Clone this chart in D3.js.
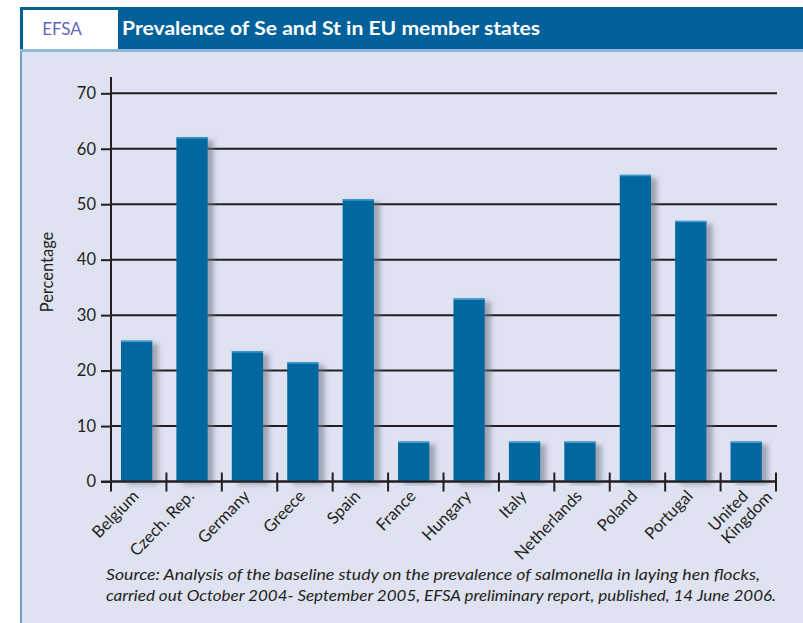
<!DOCTYPE html>
<html>
<head>
<meta charset="utf-8">
<script src="https://cdn.jsdelivr.net/npm/d3@7"></script>
<style>
  body { margin: 0; background: #fff; }
  text { font-family: Lato, "Open Sans", sans-serif; }
</style>
</head>
<body>
<svg width="803" height="623"></svg>
<script>
// data
var countries = ["Belgium", "Czech. Rep.", "Germany", "Greece", "Spain", "France",
                 "Hungary", "Italy", "Netherlands", "Poland", "Portugal", "United\nKingdom"];
var prevalence = [25.4, 62.1, 23.5, 21.5, 50.9, 7.2, 33.0, 7.2, 7.2, 55.3, 47.0, 7.2];
var yTicks = [0, 10, 20, 30, 40, 50, 60, 70];
var sourceLines = [
  "Source: Analysis of the baseline study on the prevalence of salmonella in laying hen flocks,",
  "carried out October 2004- September 2005, EFSA preliminary report, published, 14 June 2006."
];

var svg = d3.select("svg");
var ink = "#231f20";
var blue = "#00679f";

// shadow behind the bars
var defs = svg.append("defs");
var f = defs.append("filter").attr("id", "shadow")
    .attr("x", "-20%").attr("y", "-5%").attr("width", "160%").attr("height", "115%");
f.append("feDropShadow")
    .attr("dx", 6).attr("dy", 3).attr("stdDeviation", 2.5)
    .attr("flood-color", "#6b6f80").attr("flood-opacity", 0.55);

// panel + header band
svg.append("rect").attr("x", 20).attr("y", 50).attr("width", 783).attr("height", 573)
    .attr("fill", "#dfe2f0");
svg.append("rect").attr("x", 20).attr("y", 50).attr("width", 2).attr("height", 573)
    .attr("fill", "#6d9cc4");
svg.append("rect").attr("x", 20).attr("y", 7).attr("width", 783).attr("height", 43)
    .attr("fill", "#02619a");
svg.append("rect").attr("x", 20).attr("y", 49).attr("width", 783).attr("height", 3)
    .attr("fill", "#8fb8d8");
svg.append("rect").attr("x", 23).attr("y", 10).attr("width", 95).attr("height", 39)
    .attr("fill", "#ffffff");
svg.append("text").attr("x", 62).attr("y", 35).attr("text-anchor", "middle")
    .attr("font-size", 17).attr("fill", "#5f67bd").text("EFSA");
svg.append("text").attr("x", 122).attr("y", 35)
    .attr("font-size", 18).attr("font-weight", "bold").attr("fill", "#fff")
    .attr("textLength", 418).attr("lengthAdjust", "spacingAndGlyphs")
    .text("Prevalence of Se and St in EU member states");

// scales
var xScale = d3.scaleBand()
    .domain(countries)
    .range([111, 776])
    .padding(0);
var yScale = d3.scaleLinear()
    .domain([0, 70])
    .range([481.5, 93.3]);

var g = svg.append("g");

// horizontal grid lines with the little tick on the left
var yAxis = d3.axisLeft(yScale)
    .tickValues(yTicks)
    .tickSize(10)
    .tickPadding(5);
var ya = g.append("g").attr("transform", "translate(111,0)").call(yAxis);
ya.select(".domain").remove();
ya.selectAll(".tick line").attr("stroke", ink).attr("stroke-width", 2);
ya.selectAll(".tick text").attr("font-size", 16.5).attr("fill", ink)
    .style("font-family", "Lato, sans-serif");

g.selectAll(".grid")
    .data(yTicks)
    .enter().append("line")
    .attr("x1", 111).attr("x2", 777)
    .attr("y1", d => yScale(d)).attr("y2", d => yScale(d))
    .attr("stroke", ink).attr("stroke-width", 2);

// bars
var bw = xScale.bandwidth();
g.selectAll(".bar")
    .data(prevalence)
    .enter().append("rect")
    .attr("x", (d, i) => xScale(countries[i]) + bw * 0.18)
    .attr("y", d => yScale(d))
    .attr("width", bw * 0.565)
    .attr("height", d => yScale(0) - yScale(d))
    .attr("fill", blue)
    .attr("filter", "url(#shadow)");
// lighter top edge
g.selectAll(".bartop")
    .data(prevalence)
    .enter().append("rect")
    .attr("x", (d, i) => xScale(countries[i]) + bw * 0.18)
    .attr("y", d => yScale(d))
    .attr("width", bw * 0.565)
    .attr("height", 1.5)
    .attr("fill", "#3d9ad0");

// redraw zero line on top of the bars
g.append("line").attr("x1", 101).attr("x2", 777)
    .attr("y1", yScale(0)).attr("y2", yScale(0))
    .attr("stroke", ink).attr("stroke-width", 2);

// vertical axis line
g.append("line").attr("x1", 111).attr("x2", 111)
    .attr("y1", 77).attr("y2", 491)
    .attr("stroke", ink).attr("stroke-width", 2);

// ticks between categories on x axis
var bounds = countries.map(c => xScale(c)).concat([xScale.range()[1]]);
g.selectAll(".xtick")
    .data(bounds)
    .enter().append("line")
    .attr("x1", d => d).attr("x2", d => d)
    .attr("y1", yScale(0) - 9).attr("y2", yScale(0) + 10)
    .attr("stroke", ink).attr("stroke-width", 2);

// category labels, rotated
var labels = g.selectAll(".xlab")
    .data(countries)
    .enter().append("text")
    .attr("transform", d => "translate(" + (xScale(d) + bw / 2 + 1) + ",497) rotate(-46)")
    .attr("font-size", 16.5)
    .attr("fill", ink)
    .attr("text-anchor", "end");
labels.each(function(d) {
    var lines = d.split("\n");
    var t = d3.select(this);
    lines.forEach(function(l, i) {
        t.append("tspan").attr("x", 0).attr("dy", i ? 18 : 0).text(l);
    });
    if (lines.length > 1) {
        // align the lines on their start
        var first = t.select("tspan").node().getComputedTextLength();
        t.attr("text-anchor", "start");
        t.selectAll("tspan").attr("x", -first);
    }
});

// y axis title
svg.append("text")
    .attr("transform", "translate(53,272) rotate(-90)")
    .attr("text-anchor", "middle")
    .attr("font-size", 16.5)
    .attr("fill", ink)
    .text("Percentage");

// source note
svg.selectAll(".src")
    .data(sourceLines)
    .enter().append("text")
    .attr("x", 106)
    .attr("y", (d, i) => 580 + i * 21)
    .attr("font-size", 16)
    .attr("font-style", "italic")
    .attr("fill", ink)
    .attr("textLength", (d, i) => i ? 670 : 654)
    .attr("lengthAdjust", "spacingAndGlyphs")
    .text(d => d);
</script>
</body>
</html>
